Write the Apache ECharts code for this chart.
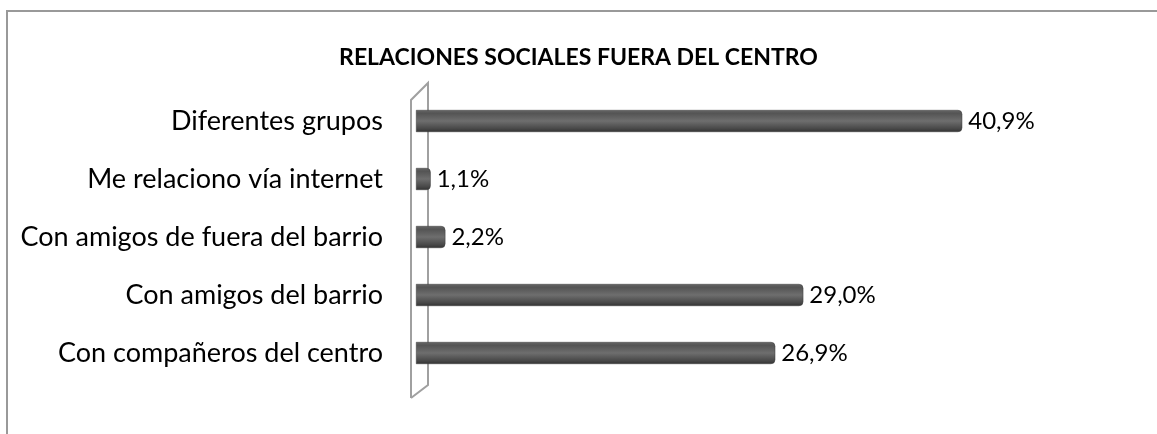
<!DOCTYPE html>
<html>
<head>
<meta charset="utf-8">
<script src="https://cdn.jsdelivr.net/npm/echarts@6/dist/echarts.min.js"></script>
<style>
  html, body { margin: 0; padding: 0; background: #fff; }
  #main { width: 1157px; height: 434px; }
</style>
</head>
<body>
<div id="main"></div>
<script>
// categorias de abajo hacia arriba (como en el eje Y de echarts)
var categorias = ['Con compañeros del centro', 'Con amigos del barrio', 'Con amigos de fuera del barrio', 'Me relaciono vía internet', 'Diferentes grupos']
var valores = [26.9, 29.0, 2.2, 1.1, 40.9]

var myChart = echarts.init(document.querySelector('#main'))

var barColor = new echarts.graphic.LinearGradient(0, 0, 0, 1, [
    { offset: 0, color: '#666666' },
    { offset: 0.15, color: '#545454' },
    { offset: 0.5, color: '#6e6e6e' },
    { offset: 0.85, color: '#484848' },
    { offset: 1, color: '#323232' }
])

var option = {
    backgroundColor: '#fff',
    textStyle: { fontFamily: 'Lato' },
    title: {
        text: 'RELACIONES SOCIALES FUERA DEL CENTRO',
        left: 'center',
        top: 41,
        textStyle: { fontFamily: 'Lato', fontWeight: 'bold', fontSize: 23, color: '#000' }
    },
    grid: { left: 416, right: 140, top: 92, height: 290 },
    xAxis: {
        type: 'value',
        min: 0,
        max: 45,
        show: false
    },
    yAxis: {
        type: 'category',
        data: categorias,
        axisLine: { show: false },
        axisTick: { show: false },
        axisLabel: { margin: 33, fontSize: 27, color: '#000', fontFamily: 'Lato' }
    },
    series: [
        {
            type: 'bar',
            data: valores,
            barWidth: 22,
            itemStyle: {
                color: barColor,
                borderRadius: [0, 4, 4, 0],
                borderColor: '#3a3a3a',
                borderWidth: 0.5
            },
            label: {
                show: true,
                position: 'right',
                distance: 6,
                fontSize: 24,
                color: '#000',
                fontFamily: 'Lato',
                formatter: function (p) {
                    return p.value.toFixed(1).replace('.', ',') + '%'
                }
            }
        }
    ],
    // marco del grafico y pared 3D del eje
    graphic: [
        { type: 'polyline', shape: { points: [[7, 434], [7, 11], [1157, 11]] }, style: { stroke: '#999', lineWidth: 2, fill: null } },
        { type: 'polyline', shape: { points: [[411, 398], [411, 100], [428, 83], [428, 385], [411, 398]] }, style: { stroke: '#a0a0a0', lineWidth: 2, fill: null }, z: -1 }
    ]
}

myChart.setOption(option)
window.addEventListener('resize', function () {
    myChart.resize()
})
</script>
</body>
</html>
